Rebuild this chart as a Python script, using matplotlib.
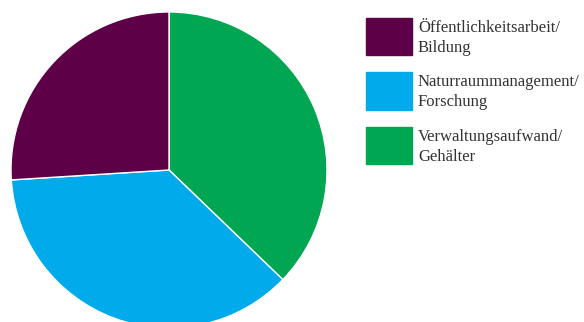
import matplotlib.pyplot as plt
from matplotlib.patches import Rectangle

labels = ["Öffentlichkeitsarbeit/\nBildung", "Naturraummanagement/\nForschung", "Verwaltungsaufwand/\nGehälter"]
shares = [26, 36.8, 37.2]
colors = ["#5e0047", "#00aaeb", "#00a651"]

W, H = 584, 322
fig = plt.figure(figsize=(W / 100, H / 100), dpi=100)

# pie centre and radius in pixels
cx, cy, r = 169, 170, 158
ax = fig.add_axes([(cx - r) / W, (H - cy - r) / H, 2 * r / W, 2 * r / H])
# draw clockwise from 12 o'clock: green, blue, purple
order = [2, 1, 0]
ax.pie([shares[i] for i in order], colors=[colors[i] for i in order],
       startangle=90, counterclock=False, radius=1,
       wedgeprops=dict(edgecolor="white", linewidth=1))
ax.set_xlim(-1, 1)
ax.set_ylim(-1, 1)
ax.set_aspect("auto")
ax.axis("off")

# legend drawn by hand
for i, (lab, col) in enumerate(zip(labels, colors)):
    top = 18 + i * 54.5
    fig.patches.append(Rectangle((366 / W, 1 - (top + 37) / H), 46 / W, 37 / H,
                                 transform=fig.transFigure, color=col))
    fig.text(418 / W, 1 - (top + 2) / H, lab, va="top", ha="left",
             family="Liberation Serif", fontsize=12, color="#333333",
             linespacing=1.3)

fig.savefig("out.png", dpi=100)
